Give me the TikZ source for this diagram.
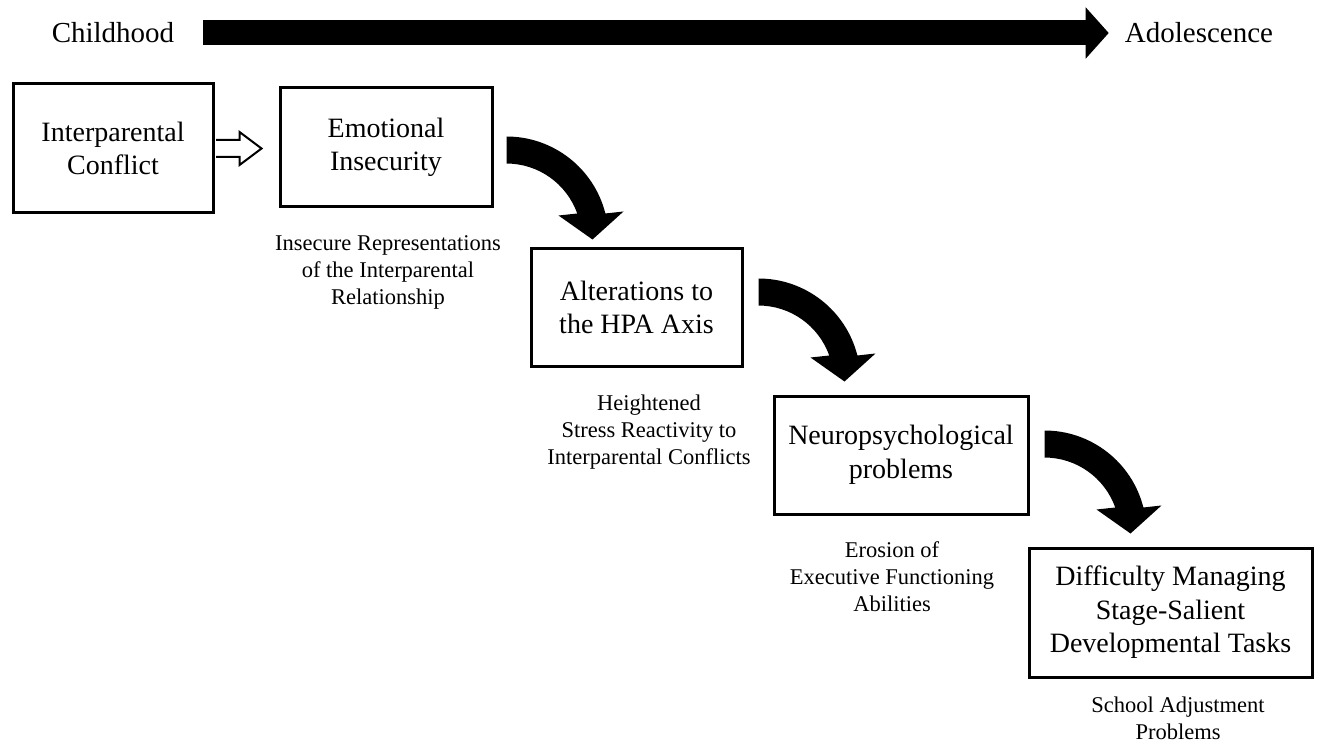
\documentclass[tikz,border=0pt]{standalone}
\usepackage{fontspec}
\setmainfont{Liberation Serif}
\usetikzlibrary{arrows.meta,calc}

\begin{document}
\begin{tikzpicture}[x=1pt, y=-1pt,
        stagebox/.style={draw, line width=3pt, align=center, inner sep=0pt,
            font=\fontsize{28}{33.6}\selectfont},
        note/.style={align=center, inner sep=0pt, font=\fontsize{22.5}{27}\selectfont},
        period/.style={inner sep=0pt, font=\fontsize{29}{35}\selectfont},
        timeline/.style={line width=25pt, -{Triangle[length=23pt, width=50pt]}},
        hollowarrow/.style={draw, fill=white, line width=2pt, line join=miter},
        bentarrow/.pic={
            \fill (0,0) arc[start angle=-90, end angle=-14.2, radius=102]
                -- (117,75) -- (86,103) -- (52,79) -- (70.7,77)
                arc[start angle=-19.5, end angle=-90, radius=75] -- cycle;
        }]
    \useasboundingbox (0,0) rectangle (1320,743);

    \node[period] (childhood) at (113,33) {Childhood};
    \node[period] (adolescence) at (1199,33) {Adolescence};
    \draw[timeline, shorten <=29pt, shorten >=16pt] (childhood.east) -- (adolescence.west);

    \node[stagebox, minimum width=200, minimum height=129] (conflict) at (113,148.5) {Interparental\\Conflict};
    \node[stagebox, minimum width=212, minimum height=119] (emotion) at (386,147.5) {Emotional\\Insecurity};
    \node[stagebox, minimum width=211, minimum height=117] (hpa) at (636.5,307.5) {Alterations to\\the HPA Axis};
    \node[stagebox, minimum width=254, minimum height=118] (neuro) at (901,455) {Neuropsychological\\problems};
    \node[stagebox, minimum width=283, minimum height=129] (difficulty) at (1170.5,612.5) {Difficulty Managing\\Stage-Salient\\Developmental Tasks};

    \node[note] (insecure) at (388,272) {Insecure Representations\\of the Interparental\\Relationship};
    \node[note] (stress) at (649,432) {Heightened\\Stress Reactivity to\\Interparental Conflicts};
    \node[note] (erosion) at (892,577) {Erosion of\\Executive Functioning\\Abilities};
    \node[note] (school) at (1178,718) {School Adjustment\\Problems};

    \draw[hollowarrow] ($(conflict.east)+(1.5,-8.5)$) -- ++(23.5,0) -- ++(0,-8)
        -- ($(emotion.west)+(-17,1)$) -- ($(conflict.east)+(25,16.5)$) -- ++(0,-8) -- ++(-23.5,0);

    \pic at ($(emotion.north east)+(13,50)$) {bentarrow};
    \pic at ($(hpa.north east)+(15,31)$) {bentarrow};
    \pic at ($(neuro.north east)+(15,36)$) {bentarrow};
\end{tikzpicture}
\end{document}
